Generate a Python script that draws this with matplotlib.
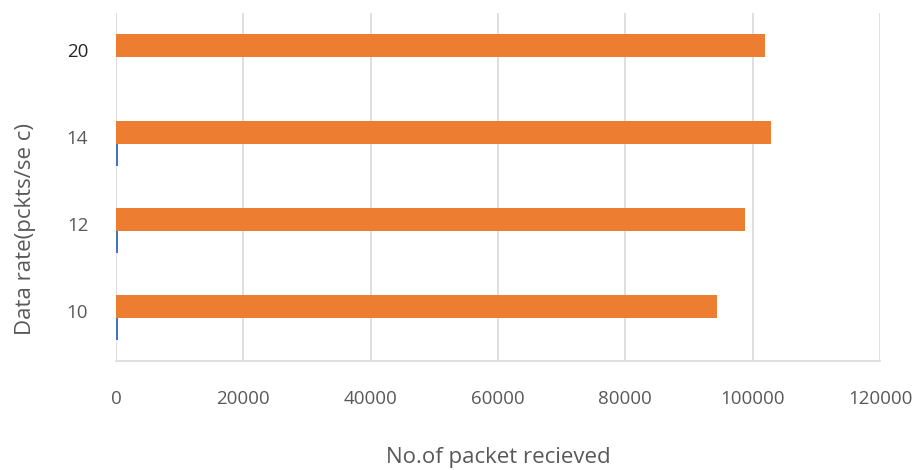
import numpy as np
import matplotlib.pyplot as plt

# data rates and packets received
rates = ["10", "12", "14", "20"]
received = [94400, 98800, 102900, 101900]
sent_rate = [300, 300, 300, 0]

plt.rcParams["font.family"] = ["Open Sans", "DejaVu Sans"]

fig = plt.figure(figsize=(9.19, 4.70), dpi=100)
ax = fig.add_axes([0.1262, 0.2319, 0.8314, 0.7404])

y = np.arange(len(rates))
h = 0.255

ax.barh(y - h / 2, sent_rate, height=h, color="#4472C4", zorder=3)
ax.barh(y + h / 2, received, height=h, color="#ED7D31", zorder=3)

ax.set_xlim(0, 120000)
ax.set_ylim(-0.5, len(rates) - 0.5)
ax.set_xticks(np.arange(0, 120001, 20000))
ax.set_yticks(y + 0.07)
ax.set_yticklabels(rates)

ax.grid(axis="x", color="#D9D9D9", linewidth=1.2, zorder=0)
for s in ["top", "right", "left"]:
    ax.spines[s].set_visible(False)
ax.spines["bottom"].set_color("#D9D9D9")
ax.spines["bottom"].set_linewidth(1.2)

ax.tick_params(axis="x", length=0, pad=21, labelsize=13.5, labelcolor="#595959")
ax.tick_params(axis="y", length=0, pad=20, labelsize=13.5, labelcolor="#595959")
ax.get_yticklabels()[-1].set_color("#262626")

ax.set_xlabel("No.of packet recieved", fontsize=16, color="#595959", labelpad=28)
ax.set_ylabel("Data rate(pckts/se c)", fontsize=16, color="#595959",
              labelpad=22, y=0.38)

fig.savefig("out.png", dpi=100)
